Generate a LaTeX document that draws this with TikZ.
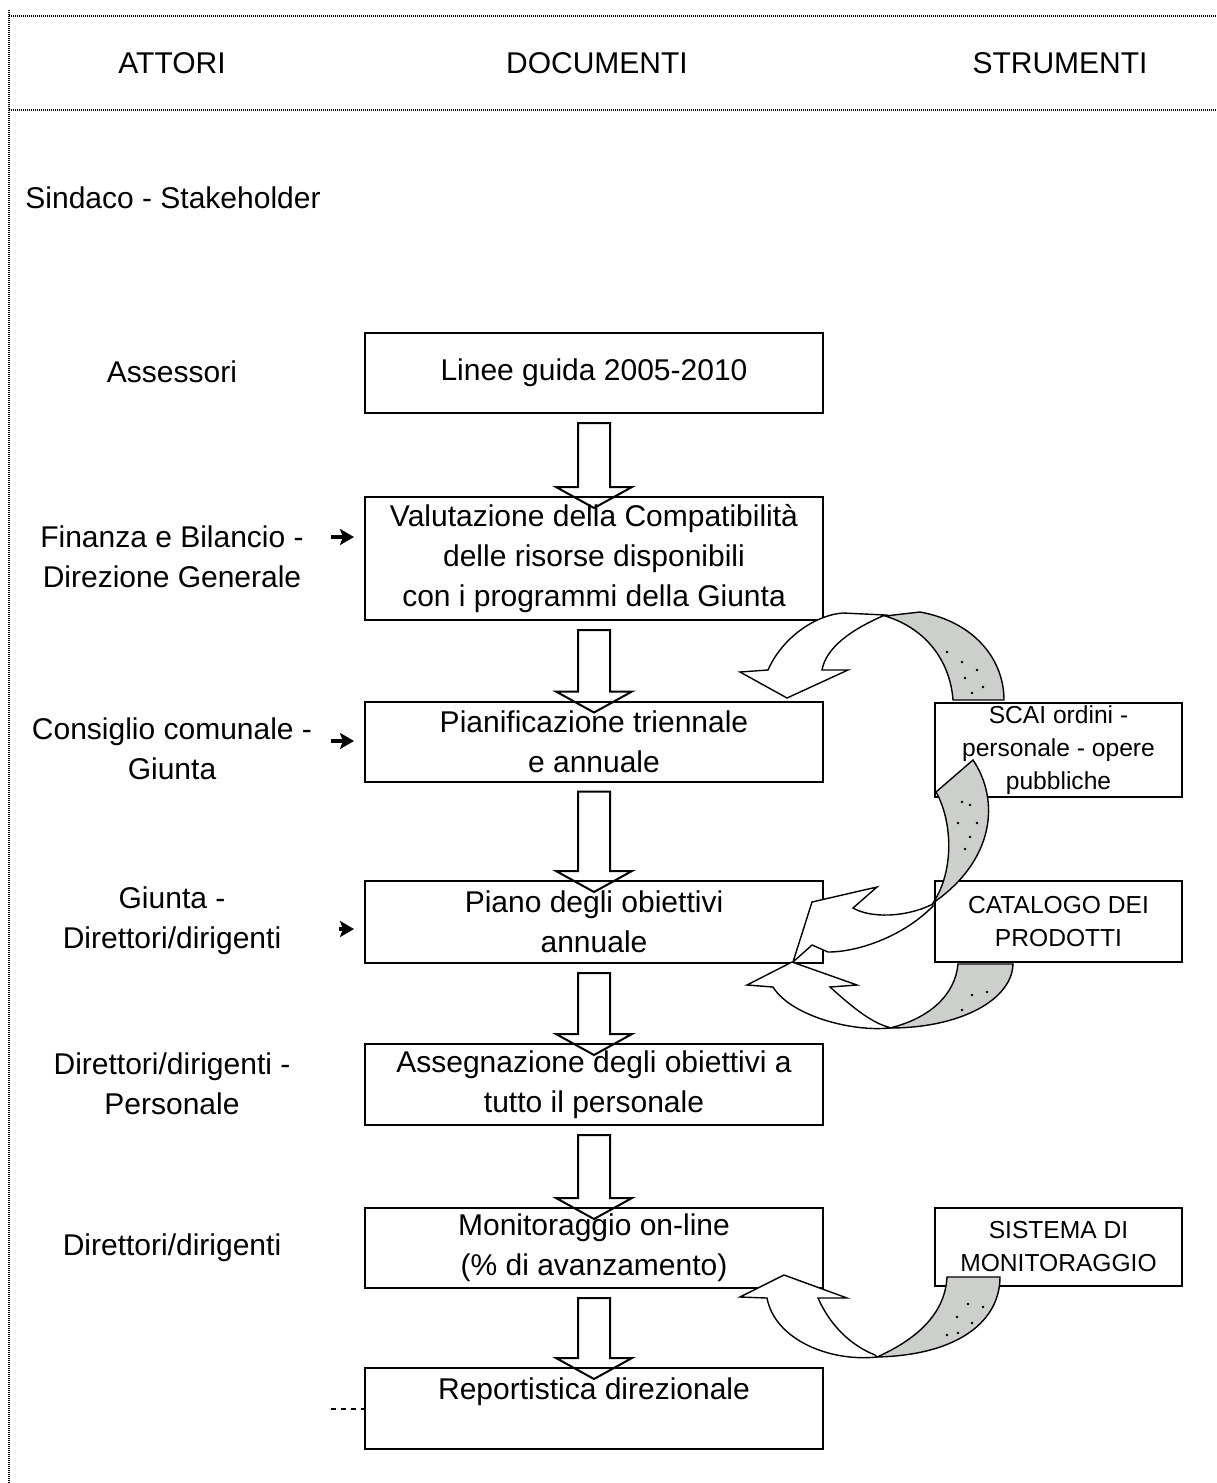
\documentclass[tikz,border=0pt]{standalone}
\usepackage{fontspec}
\setmainfont{Liberation Sans}
\usetikzlibrary{calc,arrows.meta}
\definecolor{ribbon}{RGB}{204,207,203}

\begin{document}
\begin{tikzpicture}[x=0.5pt, y=-0.5pt,
   doc/.style={rectangle, draw, line width=1pt, minimum width=229pt, minimum height=40pt,
      align=center, inner sep=0pt, font=\fontsize{15}{20}\selectfont},
   tool/.style={rectangle, draw, line width=1pt, minimum width=123.5pt,
      align=center, inner sep=0pt, font=\fontsize{12.3}{16.5}\selectfont},
   actor/.style={align=center, inner sep=0pt, font=\fontsize{15}{20}\selectfont},
   frame/.style={line width=0.8pt, dash pattern=on 0.5pt off 0.5pt},
   flow/.style={line width=1pt},
   ribfront/.style={line width=0.7pt, fill=white},
   ribback/.style={line width=0.7pt, fill=ribbon},
   hint/.style={line width=2pt, -{Stealth[length=7pt,width=8pt,inset=1.5pt]}, shorten >=5pt}]

   \useasboundingbox (0,0) rectangle (1216,1483);

   % intestazione
   \draw[frame] (9,16) -- (1216,16);
   \draw[frame] (9,110) -- (1216,110);
   \draw[frame] (9,10) -- (9,1483);
   \node[actor] (hatt) at (172,63) {ATTORI};
   \node[actor] (hdoc) at (597,63) {DOCUMENTI};
   \node[actor] (hstr) at (1060,63) {STRUMENTI};

   % attori
   \node[actor, anchor=west] (sin) at (25,198) {Sindaco - Stakeholder};
   \node[actor] (ass) at (172,372) {Assessori};
   \node[actor] (fin) at (172,557) {Finanza e Bilancio -\\Direzione Generale};
   \node[actor] (con) at (172,749) {Consiglio comunale -\\Giunta};
   \node[actor] (giu) at (172,921) {Giunta -\\Direttori/dirigenti};
   \node[actor] (dip) at (172,1084) {Direttori/dirigenti -\\Personale};
   \node[actor] (dmo) at (172,1248) {Direttori/dirigenti};

   % documenti
   \node[doc] (lin) at (594,373) {Linee guida 2005-2010};
   \node[doc, minimum height=61.5pt] (val) at (594,558.5) {Valutazione della Compatibilità\\delle risorse disponibili\\con i programmi della Giunta};
   \node[doc] (pia) at (594,741.5) {Pianificazione triennale\\e annuale};
   \node[doc, minimum height=41pt] (pob) at (594,922) {Piano degli obiettivi\\annuale};
   \node[doc, minimum height=40.5pt] (asg) at (594,1084.5) {Assegnazione degli obiettivi a\\tutto il personale};
   \node[doc] (mon) at (594,1248) {Monitoraggio on-line\\(\% di avanzamento)};
   \node[doc, minimum height=40.5pt] (rep) at (594,1408.5) {Reportistica direzionale\\\mbox{}};

   % strumenti
   \node[tool, minimum height=47pt] (sca) at (1058.5,750) {SCAI ordini -\\personale - opere\\pubbliche};
   \node[tool, minimum height=40.5pt] (cat) at (1058.5,921.5) {CATALOGO DEI\\PRODOTTI};
   \node[tool, minimum height=39pt] (sis) at (1058.5,1247) {SISTEMA DI\\MONITORAGGIO};

   % frecce tra i documenti
   \foreach \a/\b in {lin/val, val/pia, pia/pob, pob/asg, asg/mon, mon/rep}
      \draw[flow] ($(\a.south)+(-16,9)$) -- ($(\b.north)+(-16,-9)$) -- ++(-22,0)
         -- ($(\b.north)+(0,12)$) -- ($(\b.north)+(38,-9)$) -- ++(-22,0)
         -- ($(\a.south)+(16,9)$) -- cycle;

   % frecce dagli attori
   \coordinate (h1) at (331,537);
   \coordinate (h2) at (331,741);
   \coordinate (h3) at (339,929);
   \draw[hint] (h1) -- (h1 -| val.west);
   \draw[hint] (h2) -- (h2 -| pia.west);
   \draw[hint] (h3) -- (h3 -| pob.west);
   \coordinate (d1) at (331,1409);
   \draw[line width=1pt, dash pattern=on 2.5pt off 2.5pt] (d1) -- (d1 -| rep.west);

   % frecce curve dagli strumenti
   \draw[ribfront] (843,613) -- (885,615) .. controls (850,630) and (826,648) .. (822,670)
      -- (848,670) -- (787,698) -- (740,672) -- (768,670) .. controls (782,638) and (815,615) .. (843,613) -- cycle;
   \draw[ribback] (885,616) -- (920,612) .. controls (975,622) and (1004,660) .. (1004,700)
      -- (953,700) .. controls (950,660) and (925,628) .. (885,616) -- cycle;

   \draw[ribfront] (933,904) .. controls (905,918) and (870,918) .. (853,908) -- (877,887) -- (812,902)
      -- (793,962) -- (812,945) -- (828,952) .. controls (860,952) and (905,935) .. (933,906) -- cycle;
   \draw[ribback] (973,760) .. controls (1000,800) and (995,860) .. (933,903)
      .. controls (955,870) and (952,820) .. (936,792) -- cycle;

   \draw[ribfront] (890,1028) .. controls (850,1032) and (790,1015) .. (773,987) -- (747,985) -- (792,962)
      -- (857,985) -- (830,987) .. controls (850,1005) and (870,1022) .. (888,1027) -- cycle;
   \draw[ribback] (958,964) -- (1013,964) .. controls (1012,1000) and (960,1028) .. (890,1028)
      .. controls (930,1018) and (955,995) .. (958,964) -- cycle;

   \draw[ribfront] (877,1357) .. controls (830,1362) and (775,1340) .. (767,1298) -- (740,1297) -- (784,1275)
      -- (847,1298) -- (818,1298) .. controls (830,1325) and (850,1345) .. (875,1355) -- cycle;
   \draw[ribback] (947,1277) -- (1000,1277) .. controls (1000,1320) and (960,1355) .. (877,1357)
      .. controls (915,1340) and (945,1315) .. (947,1277) -- cycle;

   \foreach \p in {(947,652), (962,662), (977,670), (965,678), (983,687), (972,693),
         (962,802), (970,805), (958,823), (977,823), (970,837), (965,849),
         (972,995), (987,992), (962,1010),
         (968,1304), (983,1307), (957,1317), (972,1323), (947,1335), (958,1333)}
      \fill \p circle (0.7pt);
\end{tikzpicture}
\end{document}
